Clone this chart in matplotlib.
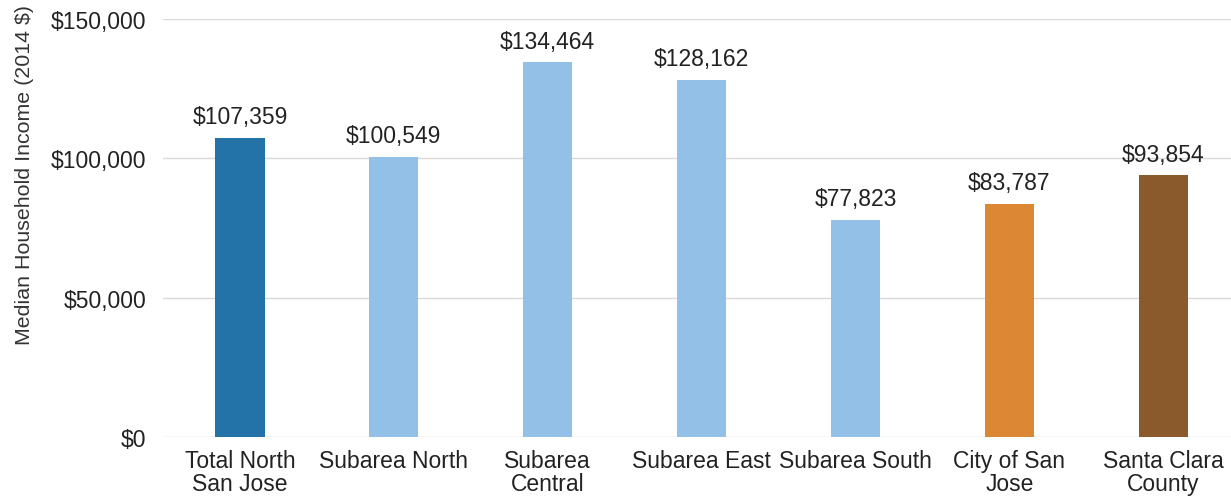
import matplotlib.pyplot as plt
from matplotlib.ticker import FuncFormatter

areas = ['Total North\nSan Jose', 'Subarea North', 'Subarea\nCentral', 'Subarea East',
         'Subarea South', 'City of San\nJose', 'Santa Clara\nCounty']
income = [107359, 100549, 134464, 128162, 77823, 83787, 93854]
bar_colors = ['#2473a8', '#92c0e6', '#92c0e6', '#92c0e6', '#92c0e6', '#dc8734', '#8b5a2c']

plt.rcParams['font.family'] = ['Liberation Sans', 'DejaVu Sans']

fig = plt.figure(figsize=(12.31, 5.02), dpi=100)
ax = fig.add_axes([163 / 1231, 64 / 502, 1068 / 1231, 418 / 502])

x = range(len(areas))
ax.bar(x, income, width=0.32, color=bar_colors, zorder=2)

# value labels above each bar
for i, v in zip(x, income):
    ax.annotate('${:,}'.format(v), (i, v), xytext=(0, 7), textcoords='offset points',
                ha='center', va='bottom', fontsize=16.5, color='#222222')

ax.set_ylim(0, 150000)
ax.set_xlim(-0.5, 6.44)
ax.set_yticks([0, 50000, 100000, 150000])
ax.yaxis.set_major_formatter(FuncFormatter(lambda v, p: '${:,.0f}'.format(v)))
ax.set_xticks(list(x))
ax.set_xticklabels(areas, linespacing=1.0)
ax.tick_params(axis='both', length=0, labelsize=16.5, colors='#222222')
ax.tick_params(axis='y', pad=12)
ax.tick_params(axis='x', pad=9)
ax.grid(axis='y', color='#d9d9d9', linewidth=1, zorder=0)
for s in ax.spines.values():
    s.set_visible(False)

ax.set_ylabel('Median Household Income (2014 $)', fontsize=15.4, color='#333333')
ax.yaxis.set_label_coords(-0.121, 0.63)

fig.savefig('out.png', dpi=100)
